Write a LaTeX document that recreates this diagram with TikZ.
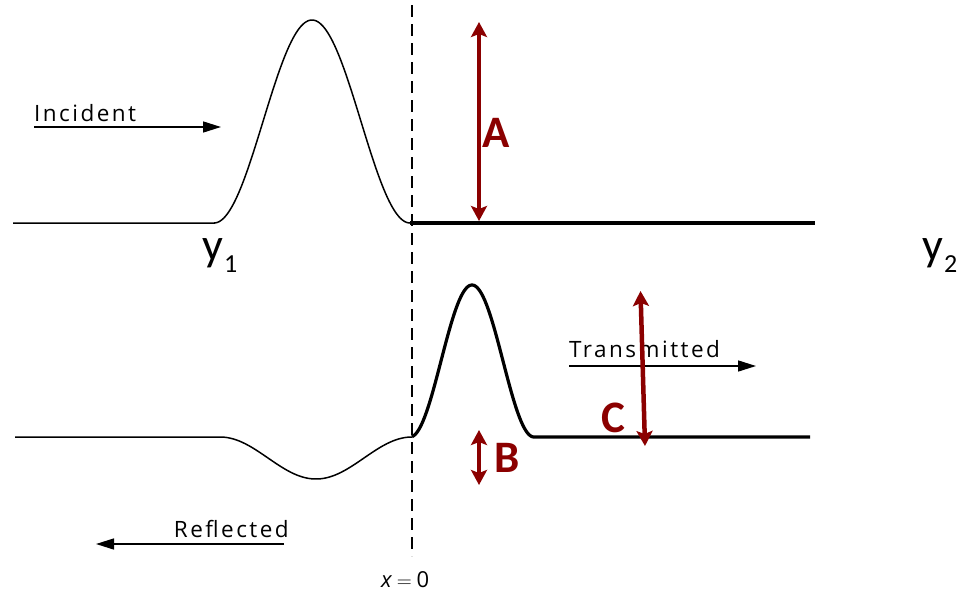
\documentclass[tikz,border=0pt]{standalone}
\usepackage{fontspec}
\setmainfont{Open Sans}
\newfontfamily\lblfont[LetterSpace=11]{Open Sans}
\newfontfamily\calfont{Carlito}
\usetikzlibrary{arrows.meta}
\definecolor{darkred}{RGB}{139,0,0}
\begin{document}
\begin{tikzpicture}[x=1pt,y=-1pt,
  wavethin/.style={line width=1.5pt,black},
  wavethick/.style={line width=3.2pt,black},
  redarrow/.style={line width=4.5pt,darkred,{Stealth[length=15pt,width=16pt,inset=3pt]}-{Stealth[length=15pt,width=16pt,inset=3pt]}},
  blackarrow/.style={line width=1.5pt,black,-{Triangle[length=18pt,width=11pt]}},
  lbl/.style={inner sep=0pt,font=\lblfont\fontsize{22.5}{23}\selectfont},
  redlbl/.style={inner sep=0pt,text=darkred,font=\calfont\bfseries\fontsize{45}{45}\selectfont},
  ylbl/.style={inner sep=0pt,font=\calfont\fontsize{46}{46}\selectfont},
  dashline/.style={line width=1.6pt,dash pattern=on 12pt off 7pt}
]
\useasboundingbox (0,0) rectangle (964,592);

% boundary
\coordinate (dT) at (412,5);
\coordinate (dB) at (412,556);
\draw[dashline] (dT) -- (dB);

% incident pulse
\draw[wavethin] (13,223) -- (214,223) -- plot[domain=214:410,samples=120] (\x,{223-101.5*(1+cos((\x-312)*1.83673))});
\coordinate (topL) at (410,223);
\coordinate (topR) at (815,223);
\draw[wavethick] (topL) -- (topR);

% reflected & transmitted
\draw[wavethin] (15,437) -- (220,437) -- plot[domain=220:412,samples=120] (\x,{437+21*(1+cos((\x-316)*1.875))});
\coordinate (botR) at (810,437);
\draw[wavethick] plot[domain=412:534,samples=120] (\x,{437-76*(1+cos((\x-472)*2.90323))}) -- (botR);

% labels and direction arrows
\node[lbl,anchor=base west] (inc) at (34,121) {Incident};
\coordinate (incS) at (34,127);
\coordinate (incE) at (221,127);
\draw[blackarrow] (incS) -- (incE);

\node[lbl,anchor=base west] (tra) at (569,357) {Transmitted};
\coordinate (traS) at (569,366);
\coordinate (traE) at (756,366);
\draw[blackarrow] (traS) -- (traE);

\node[lbl,anchor=base east] (ref) at (289,537) {Reflected};
\coordinate (refS) at (284,544);
\coordinate (refE) at (96,544);
\draw[blackarrow] (refS) -- (refE);

\node[inner sep=0pt,anchor=base west,font=\fontsize{22}{22}\selectfont] (x0) at (381,587) {\itshape x\upshape\kern5pt$=$\kern5pt0};

% y labels
\node[ylbl,anchor=base west] (y1) at (202,260) {y\kern1pt\raisebox{-12pt}{\fontsize{26}{26}\selectfont 1}};
\node[ylbl,anchor=base west] (y2) at (922,260) {y\kern1pt\raisebox{-12pt}{\fontsize{26}{26}\selectfont 2}};

% red amplitude arrows
\coordinate (a1) at (479,22);
\coordinate (a2) at (479,221);
\draw[redarrow] (a1) -- (a2);
\node[redlbl,anchor=base west] (A) at (482,147) {A};

\coordinate (b1) at (479,430);
\coordinate (b2) at (479,485);
\draw[redarrow] (b1) -- (b2);
\node[redlbl,anchor=base west] (B) at (494,472) {B};

\coordinate (c1) at (640.5,291);
\coordinate (c2) at (645,446);
\draw[redarrow] (c1) -- (c2);
\node[redlbl,anchor=base west] (C) at (601,432) {C};
\end{tikzpicture}
\end{document}
